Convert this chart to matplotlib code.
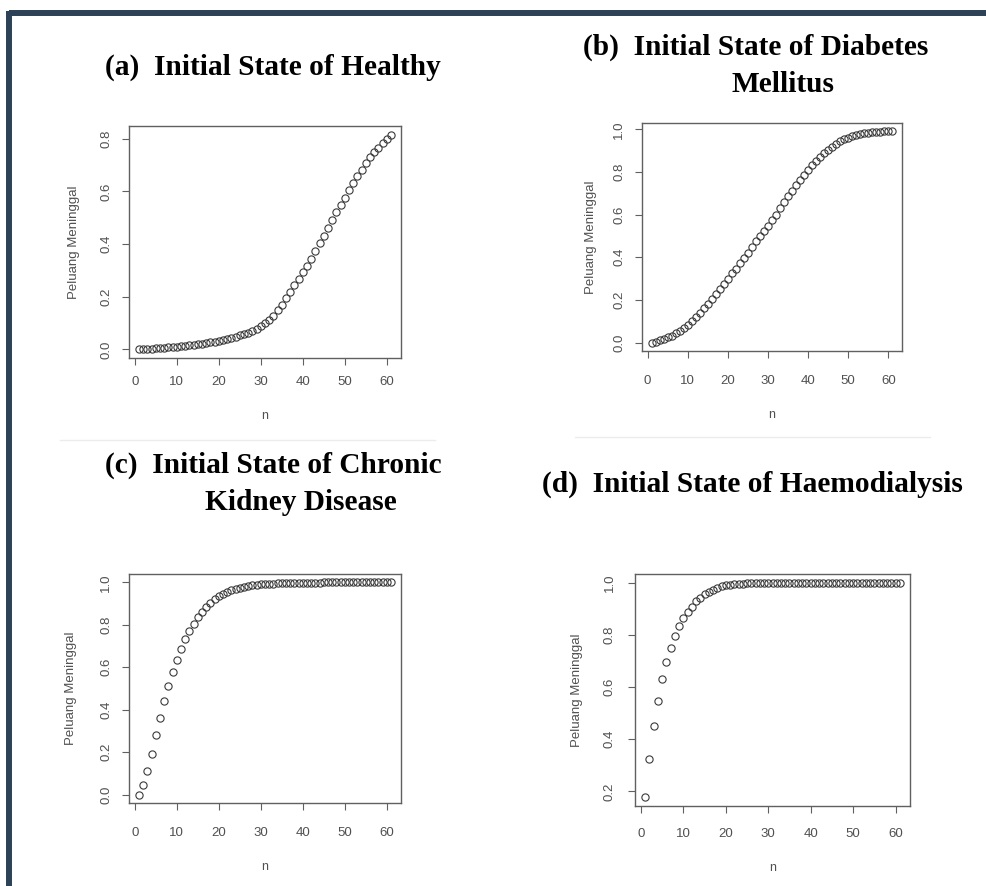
import numpy as np
import matplotlib
matplotlib.use('Agg')
import matplotlib.pyplot as plt
from matplotlib.lines import Line2D


n = list(range(1, 62))

# peluang meninggal
healthy = [0.000, 0.001, 0.002, 0.003, 0.004, 0.005, 0.006, 0.008, 0.009, 0.011,
           0.012, 0.014, 0.016, 0.018, 0.020, 0.022, 0.025, 0.027, 0.030, 0.033,
           0.036, 0.040, 0.044, 0.048, 0.053, 0.058, 0.064, 0.071, 0.079, 0.088,
           0.099, 0.112, 0.128, 0.148, 0.170, 0.195, 0.217, 0.243, 0.269, 0.295,
           0.317, 0.344, 0.373, 0.403, 0.431, 0.461, 0.492, 0.522, 0.550, 0.577,
           0.606, 0.632, 0.658, 0.683, 0.708, 0.729, 0.748, 0.766, 0.783, 0.800,
           0.816]

diabetes = [0.000, 0.003, 0.011, 0.016, 0.024, 0.032, 0.043, 0.054, 0.068, 0.084,
            0.100, 0.120, 0.140, 0.160, 0.180, 0.205, 0.227, 0.250, 0.275, 0.298,
            0.324, 0.346, 0.371, 0.397, 0.422, 0.448, 0.475, 0.500, 0.524, 0.548,
            0.573, 0.600, 0.630, 0.658, 0.685, 0.712, 0.738, 0.763, 0.787, 0.810,
            0.832, 0.852, 0.871, 0.889, 0.905, 0.919, 0.932, 0.943, 0.953, 0.961,
            0.968, 0.974, 0.978, 0.982, 0.985, 0.987, 0.988, 0.989, 0.990, 0.990,
            0.990]

ckd = [0.000, 0.043, 0.112, 0.193, 0.279, 0.360, 0.442, 0.510, 0.578, 0.635,
       0.685, 0.732, 0.772, 0.805, 0.835, 0.861, 0.884, 0.905, 0.921, 0.935,
       0.946, 0.956, 0.964, 0.970, 0.975, 0.980, 0.984, 0.987, 0.989, 0.991,
       0.993, 0.994, 0.995, 0.996, 0.997, 0.997, 0.998, 0.998, 0.999, 0.999,
       0.999, 0.999, 0.999, 0.999, 1.000, 1.000, 1.000, 1.000, 1.000, 1.000,
       1.000, 1.000, 1.000, 1.000, 1.000, 1.000, 1.000, 1.000, 1.000, 1.000,
       1.000]

haemo = [0.177, 0.326, 0.449, 0.548, 0.629, 0.695, 0.750, 0.797, 0.832, 0.863,
         0.887, 0.908, 0.928, 0.942, 0.955, 0.965, 0.973, 0.981, 0.986, 0.990,
         0.992, 0.994, 0.995, 0.996, 0.997, 0.998, 0.998, 0.999, 0.999, 0.999,
         1.000, 1.000, 1.000, 1.000, 1.000, 1.000, 1.000, 1.000, 1.000, 1.000,
         1.000, 1.000, 1.000, 1.000, 1.000, 1.000, 1.000, 1.000, 1.000, 1.000,
         1.000, 1.000, 1.000, 1.000, 1.000, 1.000, 1.000, 1.000, 1.000, 1.000,
         1.000]

W, H = 986, 886

def box(l, t, r, b):
	return [l / W, 1 - b / H, (r - l) / W, (b - t) / H]

def r_lim(v):
	lo, hi = min(v), max(v)
	d = (hi - lo) * 0.04
	return lo - d, hi + d

def panel(fig, rect, y, yticks, xpad, ypad, ylpad):
	ax = fig.add_axes(rect)
	ax.plot(n, y, 'o', mfc='none', mec='#3a3a3a', ms=5.2, mew=0.8)
	ax.set_xlim(r_lim(n))
	ax.set_ylim(r_lim(y))
	ax.set_xticks([0, 10, 20, 30, 40, 50, 60])
	ax.set_yticks(yticks)
	ax.set_yticklabels(['%.1f' % t for t in yticks], rotation=90, va='center')
	for s in ax.spines.values():
		s.set_color('#606060')
		s.set_linewidth(1.0)
	ax.tick_params(length=5, width=0.8, color='#606060', labelcolor='#505050',
	               labelsize=9.5)
	ax.tick_params(axis='y', pad=ypad)
	ax.tick_params(axis='x', pad=xpad)
	ax.set_xlabel('n', fontsize=9, color='#505050', labelpad=16)
	ax.set_ylabel('Peluang Meninggal', fontsize=9.5, color='#505050', labelpad=ylpad)
	return ax


def main():
	plt.rcParams['font.family'] = ['Liberation Sans', 'DejaVu Sans']
	fig = plt.figure(figsize=(W / 100, H / 100), dpi=100)

	panel(fig, box(129, 126, 401, 358), healthy, [0.0, 0.2, 0.4, 0.6, 0.8], 8, 7, 15)
	panel(fig, box(642, 123, 902, 351), diabetes, [0.0, 0.2, 0.4, 0.6, 0.8, 1.0], 12, 7, 12)
	panel(fig, box(129, 574, 401, 803), ckd, [0.0, 0.2, 0.4, 0.6, 0.8, 1.0], 12, 7, 17)
	panel(fig, box(635, 574, 910, 806), haemo, [0.2, 0.4, 0.6, 0.8, 1.0], 11, 9, 15)

	tkw = dict(family='Liberation Serif', fontweight='bold', fontsize=21.2,
	           ha='left', va='center', color='black')
	fig.text(105 / W, 1 - 67 / H, '(a)  Initial State of Healthy', **tkw)
	fig.text(583 / W, 1 - 47 / H, '(b)  Initial State of Diabetes', **tkw)
	fig.text(731 / W, 1 - 85 / H, 'Mellitus', **tkw)
	fig.text(105 / W, 1 - 465 / H, '(c)  Initial State of Chronic', **tkw)
	fig.text(205 / W, 1 - 503 / H, 'Kidney Disease', **tkw)
	fig.text(542 / W, 1 - 484 / H, '(d)  Initial State of Haemodialysis', **tkw)

	# faint separators
	fig.add_artist(Line2D([60 / W, 435 / W], [1 - 440 / H] * 2, color='#ececec', lw=1))
	fig.add_artist(Line2D([575 / W, 930 / W], [1 - 437 / H] * 2, color='#ececec', lw=1))

	# dark frame, top and left edges
	fig.add_artist(Line2D([9 / W, 1.0], [1 - 13 / H] * 2, color='#2d4257', lw=4.3,
	                      solid_capstyle='butt'))
	fig.add_artist(Line2D([9 / W] * 2, [0.0, 1 - 11 / H], color='#2d4257', lw=4.3,
	                      solid_capstyle='butt'))

	fig.savefig('out.png', dpi=100)


if __name__ == '__main__':
	main()
